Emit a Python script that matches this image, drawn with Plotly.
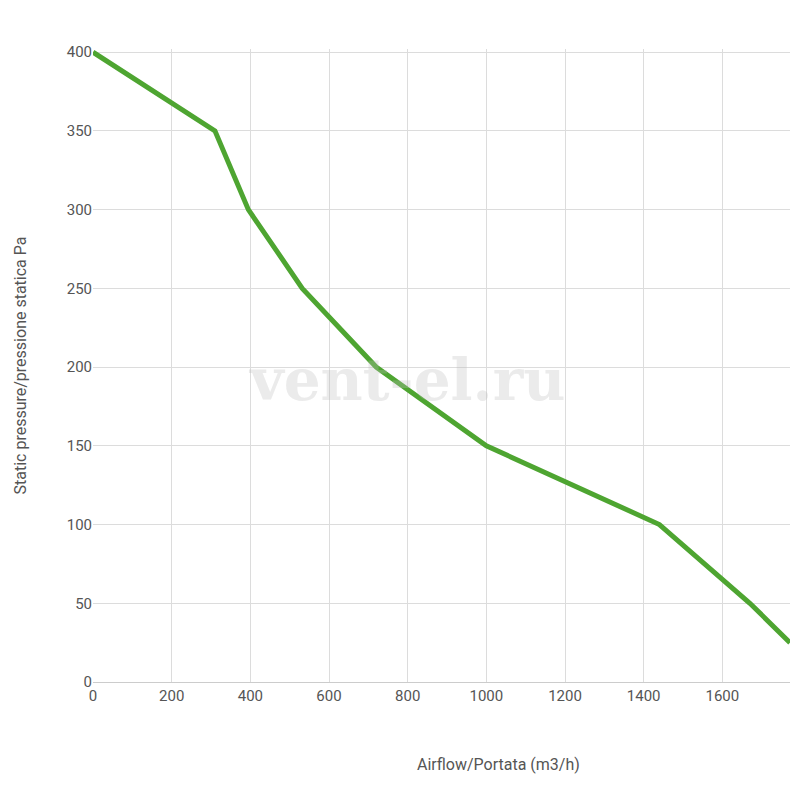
import plotly.graph_objects as go

airflow = [0, 310, 395, 532, 720, 1000, 1440, 1670, 1772]
pressure = [400, 350, 300, 250, 200, 150, 100, 50, 25]

fig = go.Figure(go.Scatter(x=airflow, y=pressure, mode="lines",
                           line=dict(color="#4ea531", width=5), hoverinfo="skip"))
grid = "#dcdcdc"
fig.update_layout(
    width=800, height=785, paper_bgcolor="white", plot_bgcolor="white",
    margin=dict(l=73, r=18, t=41, b=111), showlegend=False,
    font=dict(family="Roboto", size=15, color="#555"),
    xaxis=dict(range=[0, 1772], tickvals=list(range(0, 1800, 200)), showgrid=True,
               gridcolor=grid, zeroline=False, showline=True, linecolor="#ccc", ticks=""),
    yaxis=dict(range=[0, 402], tickvals=list(range(0, 401, 50)), showgrid=True,
               gridcolor=grid, zeroline=False, ticks="",
               title=dict(text="Static pressure/pressione statica Pa", standoff=36,
                          font=dict(size=16, color="#555"))),
    annotations=[
        dict(text="Airflow/Portata (m3/h)", xref="paper", yref="paper", x=0.582, y=-0.131,
             showarrow=False, font=dict(size=16, color="#555"), yanchor="middle"),
        dict(text="<b>vent-el.ru</b>", xref="paper", yref="paper", x=0.45, y=0.477, showarrow=False,
             font=dict(family="DejaVu Serif", size=58, color="rgba(190,190,190,0.3)")),
    ],
)
fig.write_html("out.html")
